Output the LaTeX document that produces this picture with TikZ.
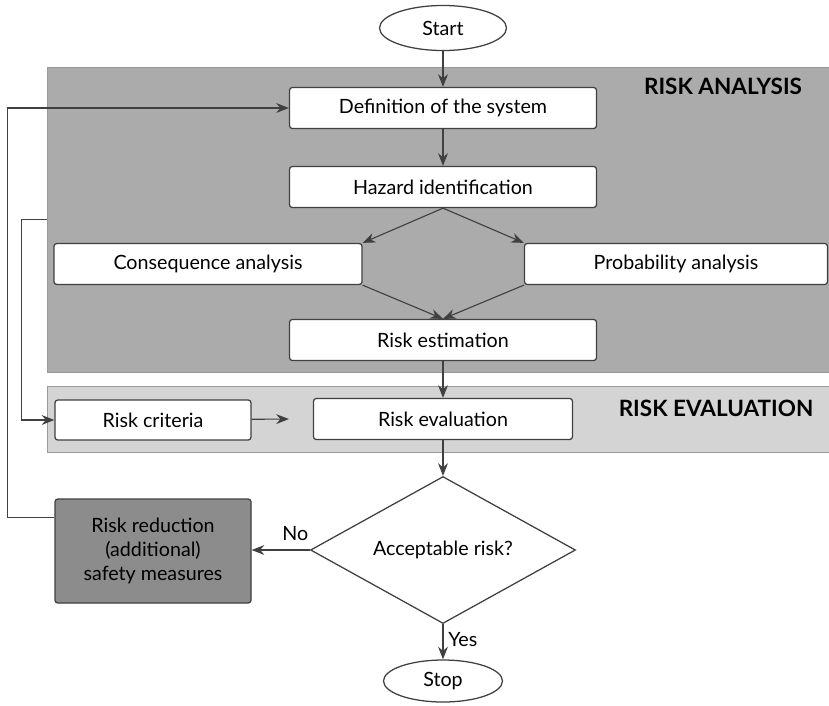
\documentclass[tikz,border=0pt]{standalone}
\usepackage{fontspec}
\setmainfont{Lato}
\usetikzlibrary{arrows.meta,shapes.geometric,calc}

\tikzset{
  box/.style={draw=black!75, fill=white, rounded corners=2pt, minimum height=1.025cm, line width=0.9pt},
  term/.style={draw=black!75, fill=white, ellipse, line width=0.9pt},
  zone/.style={draw=black!40, line width=0.6pt, inner sep=0pt},
  zonelabel/.style={font=\bfseries\fontsize{16}{18}\selectfont},
  flow/.style={-{Stealth[length=9pt,width=7pt]}, black!75, line width=0.8pt},
  link/.style={black!75, line width=0.8pt},
}

\begin{document}
\begin{tikzpicture}[font=\fontsize{14}{17}\selectfont]
  \useasboundingbox (0,0) rectangle (20.725,-17.625);
  % ------------------------------------------------------------ bands
  \node[zone, fill=black!33, minimum width=19.55cm, minimum height=7.625cm] (analysis) at (10.95,-5.4875) {};
  \node[zonelabel] (lblA) at (18.075,-2.15) {RISK ANALYSIS};
  \node[zone, fill=black!17, minimum width=19.55cm, minimum height=1.65cm] (evalzone) at (10.95,-10.475) {};
  \node[zonelabel] (lblE) at (17.9,-10.2) {RISK EVALUATION};
  % ------------------------------------------------------------ steps
  \node[term, minimum width=3.175cm, minimum height=1.125cm] (start) at (11.075,-0.7) {Start};
  \node[box, minimum width=7.675cm] (def) at (11.075,-2.7) {Definition of the system};
  \node[box, minimum width=7.675cm] (haz) at (11.075,-4.675) {Hazard identification};
  \node[box, minimum width=7.7cm] (cons) at (5.2,-6.6) {Consequence analysis};
  \node[box, minimum width=7.575cm] (prob) at (16.9,-6.6) {Probability analysis};
  \node[box, minimum width=7.675cm] (est) at (11.075,-8.5) {Risk estimation};
  \node[box, minimum width=4.9cm, minimum height=1.0cm] (crit) at (3.825,-10.5) {Risk criteria};
  \node[box, minimum width=6.475cm] (eval) at (11.075,-10.475) {Risk evaluation};
  \node[draw=black!75, fill=white, diamond, aspect=1.8, inner sep=0pt, line width=0.9pt,
        minimum width=6.625cm, minimum height=3.675cm] (dec) at (11.075,-13.75) {Acceptable risk?};
  \node[box, fill=black!45, minimum width=4.9cm, minimum height=2.6cm, align=center] (reduce) at (3.825,-13.775)
    {Risk reduction\\(additional)\\safety measures};
  \node[term, minimum width=2.975cm, minimum height=1.05cm] (stop) at (11.075,-17.025) {Stop};
  % ------------------------------------------------------------ arrows
  \draw[flow] (start) -- (def);
  \draw[flow] (def) -- (haz);
  \draw[flow] (haz.south) -- (cons.north east);
  \draw[flow] (haz.south) -- (prob.north west);
  \draw[flow] (cons.south east) -- (est.north);
  \draw[flow] (prob.south west) -- (est.north);
  \draw[flow] (est) -- (eval);
  \draw[flow] (crit) -- ([xshift=-0.6cm]eval.west);
  \draw[flow] (eval) -- (dec);
  \draw[flow] (dec) -- node[right, pos=0.45, text=black] (yes) {Yes} (stop);
  \draw[flow] (dec.west) -- node[above, pos=0.25, yshift=3pt, text=black] (no) {No} (dec.west -| reduce.east);
  % feedback loops
  \draw[flow] ([yshift=-0.475cm]reduce.north west) -- ++(-1.175,0) |- (def.west);
  \draw[flow] (analysis.west) -- ++(-0.625,0) |- (crit.west);
\end{tikzpicture}
\end{document}
